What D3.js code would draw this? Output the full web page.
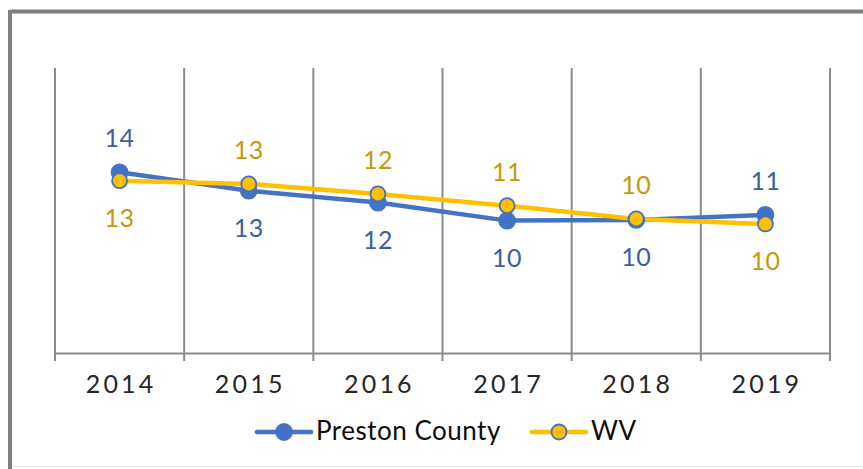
<!DOCTYPE html>
<html>
<head>
<meta charset="utf-8">
<script src="https://cdn.jsdelivr.net/npm/d3@7"></script>
<style>
  body { margin: 0; background: #fff; }
  text { font-family: Lato, "Open Sans", sans-serif; }
</style>
</head>
<body>
<script>

    var years = ["2014", "2015", "2016", "2017", "2018", "2019"];
    var preston = [13.95, 12.53, 11.61, 10.22, 10.27, 10.66];
    var wv = [13.30, 13.05, 12.28, 11.37, 10.35, 9.96];
    var seriesNames = ["Preston County", "WV"];
    // which side each data label sits on (1 = above, 0 = below)
    var prestonAbove = [1, 0, 0, 0, 0, 1];
    var wvAbove = [0, 1, 1, 1, 1, 0];

    var W = 863, H = 469;
    var plot = {left: 55, right: 830, top: 68, bottom: 353};

    var svg = d3.select("body")
    .append("svg")
    .attr("width", W)
    .attr("height", H);

    // chart frame (cropped screenshot: heavy top/left edge)
    svg.append("line").attr("x1", 10).attr("x2", W).attr("y1", 11.5).attr("y2", 11.5)
    .attr("stroke", "#7f7f7f").attr("stroke-width", 4);
    svg.append("line").attr("x1", 10).attr("x2", 10).attr("y1", 10).attr("y2", H)
    .attr("stroke", "#7f7f7f").attr("stroke-width", 4);
    svg.append("line").attr("x1", 12).attr("x2", W).attr("y1", 466.5).attr("y2", 466.5)
    .attr("stroke", "#e3e3e3").attr("stroke-width", 1);

    var x = d3.scaleBand()
    .domain(years)
    .range([plot.left, plot.right]);

    var y = d3.scaleLinear()
    .domain([0, 22])
    .range([plot.bottom, plot.top]);

    // vertical gridlines at category boundaries
    var edges = years.map(function(d) { return x(d); }).concat([plot.right]);
    svg.selectAll("line.grid")
    .data(edges)
    .enter().append("line")
    .attr("class", "grid")
    .attr("x1", function(d) { return d; })
    .attr("x2", function(d) { return d; })
    .attr("y1", plot.top)
    .attr("y2", plot.bottom + 8)
    .attr("stroke", "#8c8c8c")
    .attr("stroke-width", 2);

    // x axis
    var xAxis = d3.axisBottom(x).tickSize(0).tickPadding(22);
    var gx = svg.append("g")
    .attr("transform", "translate(0," + plot.bottom + ")")
    .call(xAxis);
    gx.select(".domain").attr("stroke", "#8c8c8c").attr("stroke-width", 2);
    gx.selectAll("text")
    .attr("font-size", "25px")
    .attr("fill", "#262626")
    .attr("letter-spacing", "3.2px")
    .attr("dy", "0.71em")
    .attr("dx", "1.5px");

    var line = d3.line()
    .x(function(d, i) { return x(years[i]) + x.bandwidth() / 2; })
    .y(function(d) { return y(d); });

    var series = [
      {name: seriesNames[0], values: preston, above: prestonAbove, color: "#4472c4", fill: "#4472c4", r: 8, label: "#3d5f9e"},
      {name: seriesNames[1], values: wv, above: wvAbove, color: "#ffc000", fill: "#ffc000", r: 7.5, label: "#c49a0a"}
    ];

    series.forEach(function(s) {
      svg.append("path")
      .datum(s.values)
      .attr("d", line)
      .attr("fill", "none")
      .attr("stroke", s.color)
      .attr("stroke-width", 4.5)
      .attr("stroke-linejoin", "round");
    });

    series.forEach(function(s) {
      svg.selectAll(null)
      .data(s.values)
      .enter().append("circle")
      .attr("cx", function(d, i) { return x(years[i]) + x.bandwidth() / 2; })
      .attr("cy", function(d) { return y(d); })
      .attr("r", s.r)
      .attr("fill", s.fill)
      .attr("stroke", "#4472c4")
      .attr("stroke-width", 1.8);

      svg.selectAll(null)
      .data(s.values)
      .enter().append("text")
      .attr("x", function(d, i) { return x(years[i]) + x.bandwidth() / 2; })
      .attr("y", function(d, i) { return y(d) + (s.above[i] ? -25 : 46); })
      .attr("text-anchor", "middle")
      .attr("font-size", "25px")
      .attr("letter-spacing", "0.5px")
      .attr("fill", s.label)
      .text(function(d) { return Math.round(d); });
    });

    // legend
    var legendX = [257, 532];
    var legend = svg.selectAll(".legend")
    .data(series)
    .enter().append("g")
    .attr("class", "legend")
    .attr("transform", function(d, i) { return "translate(" + legendX[i] + ",432)"; });

    legend.append("line")
    .attr("x1", 0).attr("x2", 54)
    .attr("stroke", function(d) { return d.color; })
    .attr("stroke-width", 4.5)
    .attr("stroke-linecap", "round");

    legend.append("circle")
    .attr("cx", 27)
    .attr("r", function(d) { return d.r; })
    .attr("fill", function(d) { return d.fill; })
    .attr("stroke", "#4472c4")
    .attr("stroke-width", 1.8);

    legend.append("text")
    .attr("x", 59)
    .attr("y", 8)
    .attr("font-size", "26px")
    .attr("letter-spacing", "0.5px")
    .attr("fill", "#0d0d0d")
    .text(function(d) { return d.name; });

</script>
</body>
</html>
